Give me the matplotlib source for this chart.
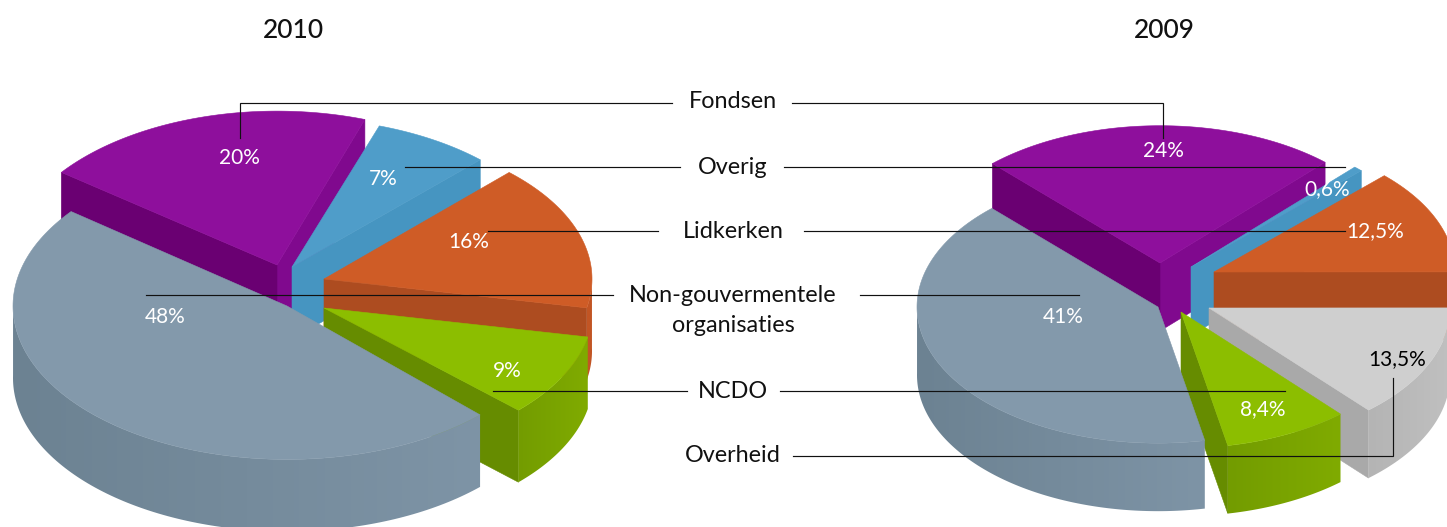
import numpy as np
import matplotlib
matplotlib.use('Agg')
import matplotlib.pyplot as plt
from matplotlib.colors import LinearSegmentedColormap
from matplotlib.patches import Polygon

plt.rcParams['font.family'] = ['Lato', 'DejaVu Sans']

# Data
labels = ['Non-gouvermentele', 'NCDO', 'Overheid', 'Lidkerken', 'Overig', 'Fondsen']
values_2010 = [48, 9, 0, 16, 7, 20]
values_2009 = [41, 8.4, 13.5, 12.5, 0.6, 24]
text_2010 = ['48%', '9%', '', '16%', '7%', '20%']
text_2009 = ['41%', '8,4%', '13,5%', '12,5%', '0,6%', '24%']

# top colour, wall at first edge, wall at last edge, arc wall left, arc wall right
colors = {
    'Non-gouvermentele': ('#8399ab', '#6e8495', '#6e8495', '#6c8292', '#7e94a6'),
    'NCDO': ('#8cbe00', '#668c00', '#668c00', '#739c00', '#80ab00'),
    'Overheid': ('#cfcfcf', '#a9a9a9', '#a9a9a9', '#b4b4b4', '#c0c0c0'),
    'Lidkerken': ('#cf5c26', '#ad4c20', '#ad4c20', '#c25524', '#c25524'),
    'Overig': ('#4f9dc9', '#4695c1', '#4695c1', '#4695c1', '#4695c1'),
    'Fondsen': ('#8e0f9c', '#80098e', '#6a0072', '#80098e', '#80098e'),
}

# back to front
draw_2010 = ['Fondsen', 'Overig', 'Lidkerken', 'NCDO', 'Non-gouvermentele']
draw_2009 = ['Fondsen', 'Overig', 'Lidkerken', 'Overheid', 'NCDO', 'Non-gouvermentele']

# each slice: apex x, apex y, radius, flattening, small turn in degrees
geom_2010 = {'Non-gouvermentele': (287, 306, 274, 0.56, 0),
             'NCDO': (324, 308, 269, 0.55, 1.5),
             'Lidkerken': (324, 279, 268, 0.55, 1.5),
             'Overig': (292, 267, 271, 0.55, 1.2),
             'Fondsen': (277, 265, 270, 0.57, 1)}
geom_2009 = {'Non-gouvermentele': (1158, 307, 241, 0.565, 0),
             'NCDO': (1181, 312, 241, 0.565, 0),
             'Overheid': (1209, 308, 241, 0.565, 0),
             'Lidkerken': (1214, 272, 241, 0.565, 0),
             'Overig': (1191, 267, 241, 0.565, 0),
             'Fondsen': (1160, 263, 243, 0.565, 0)}

fig = plt.figure(figsize=(14.47, 5.27), dpi=100)
ax = fig.add_axes([0, 0, 1, 1])
ax.axis('off')

z = 1


def fill(xs, ys, color):
    global z
    z += 1
    ax.fill(xs, ys, color=color, lw=0.4, zorder=z)


def draw_slice(name, value, start, geom, depth):
    global z
    top, wall_a, wall_b, arc_l, arc_r = colors[name]
    cx, cy, r, k, turn = geom
    start = start + turn
    end = start + value * 3.6
    th = np.radians(np.linspace(start, end, 160))
    xs = cx + r * np.cos(th)
    ys = cy - r * k * np.sin(th)

    # straight walls, only those facing the viewer
    if np.cos(th[0]) > 0:
        fill([cx, xs[0], xs[0], cx], [cy, ys[0], ys[0] + depth, cy + depth], wall_a)
    if np.cos(th[-1]) < 0:
        fill([cx, xs[-1], xs[-1], cx], [cy, ys[-1], ys[-1] + depth, cy + depth], wall_b)

    # outer wall with a soft left to right shade
    front = np.sin(th) < 0.02
    if front.sum() > 1:
        fx, fy = xs[front], ys[front]
        z += 1
        cmap = LinearSegmentedColormap.from_list('wall', [arc_l, arc_r])
        img = ax.imshow(np.linspace(0, 1, 256).reshape(1, -1), cmap=cmap, aspect='auto',
                        extent=(fx.min(), fx.max(), 527, 0), zorder=z)
        clip = Polygon(np.c_[np.r_[fx, fx[::-1]], np.r_[fy, fy[::-1] + depth]],
                       transform=ax.transData, fc='none', ec='none')
        ax.add_patch(clip)
        img.set_clip_path(clip)

    fill(np.r_[cx, xs], np.r_[cy, ys], top)


def draw_pie(values, order, geoms, first_angle, depth):
    angle = first_angle
    starts = {}
    for name, v in zip(labels, values):
        starts[name] = angle
        angle += v * 3.6
    for name in order:
        draw_slice(name, values[labels.index(name)], starts[name], geoms[name], depth)


draw_pie(values_2010, draw_2010, geom_2010, 142, 72)
draw_pie(values_2009, draw_2009, geom_2009, 133.6, 68)

ax.set_xlim(0, 1447)
ax.set_ylim(527, 0)

# leader lines
leaders = [
    ([240, 240, 672], [138, 103, 103]), ([792, 1163, 1163], [103, 103, 138]),
    ([405, 680], [167, 167]), ([784, 1345], [167, 167]),
    ([488, 658], [231, 231]), ([804, 1345], [231, 231]),
    ([146, 613], [295, 295]), ([860, 1079], [295, 295]),
    ([493, 687], [391, 391]), ([780, 1285], [391, 391]),
    ([793, 1393, 1393], [456, 456, 378]),
]
for lx, ly in leaders:
    ax.plot(lx, ly, color='#111111', lw=0.85, solid_joinstyle='miter', zorder=100)

# titles and middle labels
for s, x in [('2010', 293), ('2009', 1164)]:
    ax.text(x, 31, s, fontsize=19, fontweight='medium', ha='center', va='center',
            color='#111111', zorder=101)
middle = [('Fondsen', 102), ('Overig', 167), ('Lidkerken', 231), ('Non-gouvermentele', 295),
          ('organisaties', 326), ('NCDO', 391), ('Overheid', 455)]
for s, y in middle:
    ax.text(733, y, s, fontsize=16.8, ha='center', va='center', color='#111111', zorder=101)

# percentage labels
pos_2010 = [(165, 317), (507, 371), None, (469, 242), (383, 179), (239, 158)]
pos_2009 = [(1063, 317), (1263, 409), (1397, 359), (1375, 231), (1327, 189), (1163, 151)]
for s, p in zip(text_2010, pos_2010):
    if p:
        ax.text(p[0], p[1], s, fontsize=15, ha='center', va='center', color='white', zorder=101)
for s, p, name in zip(text_2009, pos_2009, labels):
    c = 'black' if name == 'Overheid' else 'white'
    ax.text(p[0], p[1], s, fontsize=15, ha='center', va='center', color=c, zorder=101)

fig.savefig('out.png', dpi=100)
